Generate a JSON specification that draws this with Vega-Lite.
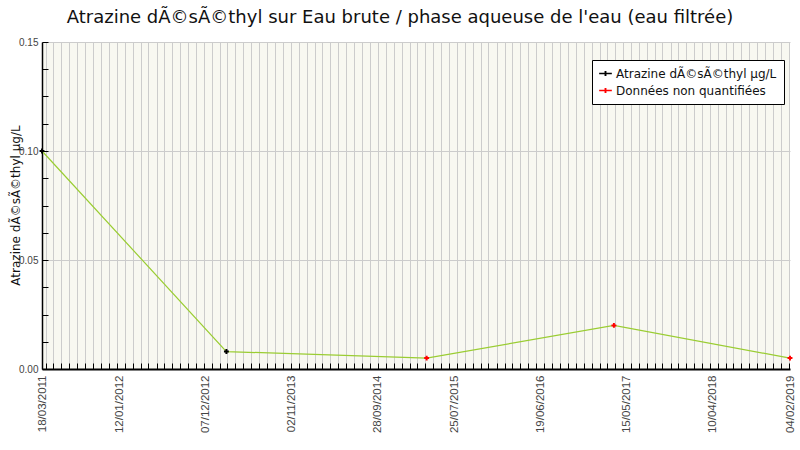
{
  "$schema": "https://vega.github.io/schema/vega-lite/v6.json",
  "autosize": "none",
  "width": 748,
  "height": 327,
  "padding": {"left": 42, "top": 42, "right": 10, "bottom": 81},
  "background": "white",
  "title": {
    "text": "Atrazine dÃ©sÃ©thyl sur Eau brute / phase aqueuse de l'eau (eau filtrée)",
    "font": "DejaVu Sans",
    "fontSize": 18,
    "fontWeight": "normal",
    "color": "#111",
    "anchor": "middle",
    "offset": 10,
    "dx": -16
  },
  "data": {
    "values": [
      {"date": "2011-03-18", "value": 0.1, "serie": "Atrazine dÃ©sÃ©thyl µg/L"},
      {"date": "2013-02-25", "value": 0.008, "serie": "Atrazine dÃ©sÃ©thyl µg/L"},
      {"date": "2015-04-07", "value": 0.005, "serie": "Données non quantifiées"},
      {"date": "2017-03-28", "value": 0.02, "serie": "Données non quantifiées"},
      {"date": "2019-02-04", "value": 0.005, "serie": "Données non quantifiées"}
    ]
  },
  "layer": [
    {
      "mark": {"type": "line", "color": "#9acd32", "strokeWidth": 1.2},
      "encoding": {
        "x": {
          "field": "date", "type": "temporal",
          "scale": {"type": "utc", "nice": false},
          "axis": {
            "title": null, "labels": false, "grid": true, "gridColor": "#cccccc",
            "tickCount": {"interval": "month", "step": 1},
            "tickSize": -6, "tickColor": "black", "domainColor": "black", "domainWidth": 2
          }
        },
        "y": {
          "field": "value", "type": "quantitative",
          "scale": {"domain": [0, 0.15], "nice": false},
          "axis": {
            "title": null, "labels": false, "grid": false,
            "values": [0, 0.0125, 0.025, 0.0375, 0.05, 0.0625, 0.075, 0.0875, 0.1, 0.1125, 0.125, 0.1375, 0.15],
            "tickSize": -6, "tickColor": "black", "domainColor": "black", "domainWidth": 1.5
          }
        }
      }
    },
    {
      "mark": {"type": "point", "shape": "cross", "filled": true, "size": 24, "opacity": 1},
      "encoding": {
        "x": {
          "field": "date", "type": "temporal",
          "axis": {
            "orient": "bottom", "title": null, "grid": false, "ticks": false, "domain": false,
            "values": [
              {"year": 2011, "month": 3, "date": 18, "utc": true},
              {"year": 2012, "month": 1, "date": 12, "utc": true},
              {"year": 2012, "month": 12, "date": 7, "utc": true},
              {"year": 2013, "month": 11, "date": 2, "utc": true},
              {"year": 2014, "month": 9, "date": 28, "utc": true},
              {"year": 2015, "month": 7, "date": 25, "utc": true},
              {"year": 2016, "month": 6, "date": 19, "utc": true},
              {"year": 2017, "month": 5, "date": 15, "utc": true},
              {"year": 2018, "month": 4, "date": 10, "utc": true},
              {"year": 2019, "month": 2, "date": 4, "utc": true}
            ],
            "labelExpr": "utcFormat(datum.value, '%d/%m/%Y')",
            "labelAngle": -90, "labelPadding": 6,
            "labelFont": "Liberation Sans", "labelFontSize": 11.5, "labelColor": "#444"
          }
        },
        "y": {
          "field": "value", "type": "quantitative",
          "axis": {
            "orient": "left",
            "title": "Atrazine dÃ©sÃ©thyl µg/L",
            "titleFont": "DejaVu Sans", "titleFontSize": 12, "titleFontWeight": "normal", "titleColor": "#111",
            "titleX": -27, "titleY": 163, "titleAlign": "center", "titleBaseline": "middle", "titleAngle": -90,
            "values": [0, 0.05, 0.1, 0.15], "format": ".2f",
            "grid": true, "gridColor": "#cccccc", "ticks": false, "domain": false,
            "labelFont": "Liberation Sans", "labelFontSize": 10, "labelColor": "#444", "labelPadding": 4
          }
        },
        "color": {
          "field": "serie", "type": "nominal",
          "scale": {"domain": ["Atrazine dÃ©sÃ©thyl µg/L", "Données non quantifiées"], "range": ["black", "red"]},
          "legend": {
            "title": null, "orient": "none", "legendX": 550, "legendY": 18,
            "fillColor": "white", "strokeColor": "black", "padding": 7,
            "labelFont": "DejaVu Sans", "labelFontSize": 12, "labelColor": "#111", "labelLimit": 300,
            "symbolType": "M-1,-0.1H-0.15V-0.4H0.15V-0.1H1V0.1H0.15V0.4H-0.15V0.1H-1Z",
            "symbolSize": 160, "symbolStrokeWidth": 0, "symbolOpacity": 1,
            "rowPadding": 4
          }
        }
      }
    }
  ],
  "resolve": {"axis": {"x": "independent", "y": "independent"}},
  "config": {
    "view": {"fill": "#f8f8f1", "stroke": null}
  }
}
